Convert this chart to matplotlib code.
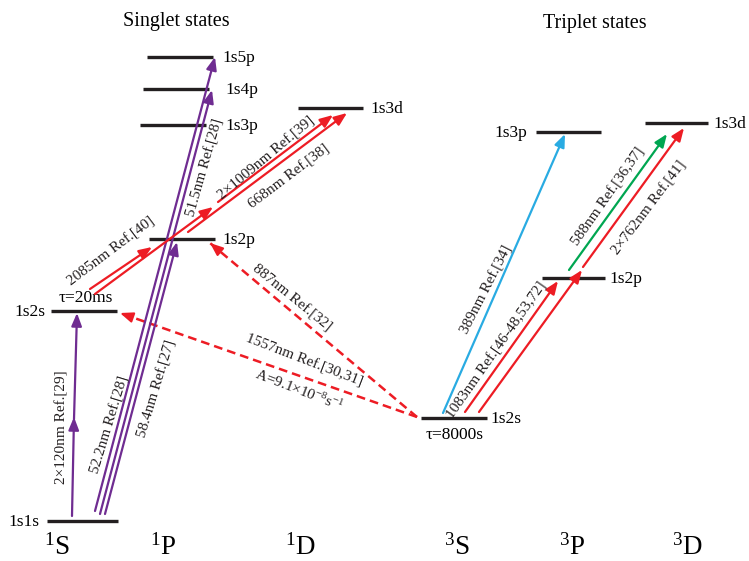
import matplotlib.pyplot as plt

plt.rcParams['font.family'] = ['Liberation Serif', 'DejaVu Serif']
plt.rcParams['mathtext.fontset'] = 'custom'
plt.rcParams['mathtext.rm'] = 'Liberation Serif'
plt.rcParams['mathtext.it'] = 'Liberation Serif:italic'

# energy levels (drawn in the picture's own pixel frame)
level_names = ['1s1s', '1s2s', '1s2p', '1s3p', '1s4p', '1s5p', '1s3d',
               '1s2s', '1s2p', '1s3p', '1s3d']
level_x0 = [47, 51, 149, 140, 143, 147, 298, 421, 542, 536, 645]
level_x1 = [118, 117, 215, 206, 209, 213, 363, 487, 605, 601, 708]
level_y = [521, 311, 239, 125, 89, 57, 108, 418, 278, 132, 123]
level_side = ['l', 'l', 'r', 'r', 'r', 'r', 'r', 'r', 'r', 'l', 'r']
label_gap = [8, 6, 7, 19, 16, 9, 7, 3, 4, 9, 5]

# transitions: start, end, colour key, dashed
trans_start = [(72, 516), (74, 419), (95, 511), (100, 514), (105, 514),
               (90, 289), (95, 294), (218, 202), (188, 232),
               (417, 417), (417, 417),
               (443, 413), (465, 412), (479, 412), (583, 267), (569, 270)]
trans_end = [(74, 417), (77, 313), (215, 57), (212, 90), (177, 242),
             (152, 247), (213, 207), (333, 115), (347, 113),
             (210, 243), (120, 313),
             (565, 134), (558, 281), (582, 270), (684, 128), (667, 134)]
trans_kind = ['uv', 'uv', 'uv', 'uv', 'uv',
              'ir', 'ir', 'ir', 'ir',
              'ir', 'ir',
              'blue', 'ir', 'ir', 'ir', 'green']
trans_dashed = [False] * 9 + [True, True] + [False] * 5

# transition labels
tl_text = ['2×120nm Ref.[29]', '52.2nm Ref.[28]', '58.4nm Ref.[27]', '51.5nm Ref.[28]',
           '2085nm Ref.[40]', '2×1009nm Ref.[39]', '668nm Ref.[38]',
           '887nm Ref.[32]', '1557nm Ref.[30,31]', r'A=9.1×10$^{\mathregular{-8}}$s$^{\mathregular{-1}}$',
           '389nm Ref.[34]', '1083nm Ref.[46-48,53,72]', '588nm Ref.[36,37]', '2×762nm Ref.[41]']
tl_pos = [(62, 427), (110, 425), (157, 389), (205, 168),
          (111, 252), (266, 158), (289, 177),
          (292, 298), (304, 361), (299, 390),
          (487, 290), (497, 350), (608, 197), (649, 208)]
tl_rot = [90, 73, 73, 74, 37, 40, 37, -39, -21, -21, 63, 55, 55, 53]

terms = ['$^{\\mathregular{1}}$S', '$^{\\mathregular{1}}$P', '$^{\\mathregular{1}}$D',
         '$^{\\mathregular{3}}$S', '$^{\\mathregular{3}}$P', '$^{\\mathregular{3}}$D']
term_x = [57, 163, 300, 457, 572, 687]

colors = {'uv': '#6f2c91', 'ir': '#ed1c24', 'blue': '#29abe2', 'green': '#00a651'}

fig = plt.figure(figsize=(7.49, 5.61), dpi=100)
ax = fig.add_axes([0, 0, 1, 1])
ax.set_xlim(0, 749)
ax.set_ylim(561, 0)
ax.axis('off')

for name, x0, x1, y, side, g in zip(level_names, level_x0, level_x1, level_y,
                                    level_side, label_gap):
    ax.plot([x0, x1], [y, y], color='#231f20', lw=2.4, solid_capstyle='butt')
    if side == 'r':
        ax.text(x1 + g, y + 1, name, fontsize=12.5, ha='left', va='center')
    else:
        ax.text(x0 - g, y + 1, name, fontsize=12.5, ha='right', va='center')

ax.text(86, 306, 'τ=20ms', fontsize=12.5, ha='center', va='bottom')
ax.text(455, 435, 'τ=8000s', fontsize=12.5, ha='center', va='center')

head = '-|>,head_length=0.55,head_width=0.22'
for (xs, ys), (xe, ye), k, d in zip(trans_start, trans_end, trans_kind, trans_dashed):
    c = colors[k]
    if d:
        ax.plot([xs, xe], [ys, ye], color=c, lw=1.8, ls=(0, (3.5, 2)))
        ax.annotate('', xy=(xe, ye), xytext=(xe + (xs - xe) * 0.02, ye + (ys - ye) * 0.02),
                    arrowprops=dict(arrowstyle=head, color=c, lw=1.5,
                                    shrinkA=0, shrinkB=0, mutation_scale=14))
    else:
        ax.annotate('', xy=(xe, ye), xytext=(xs, ys),
                    arrowprops=dict(arrowstyle=head, color=c, lw=1.6,
                                    shrinkA=0, shrinkB=0, mutation_scale=14))

for t, (x, y), r in zip(tl_text, tl_pos, tl_rot):
    ax.text(x, y, t, fontsize=11, rotation=r, rotation_mode='anchor',
            ha='center', va='center', color='#231f20')

for t, x in zip(terms, term_x):
    ax.text(x, 555, t, fontsize=19.5, ha='center', va='baseline')

ax.text(176, 21, 'Singlet states', fontsize=14.5, ha='center', va='center')
ax.text(595, 23, 'Triplet states', fontsize=14.5, ha='center', va='center')

fig.savefig('out.png', dpi=100)
